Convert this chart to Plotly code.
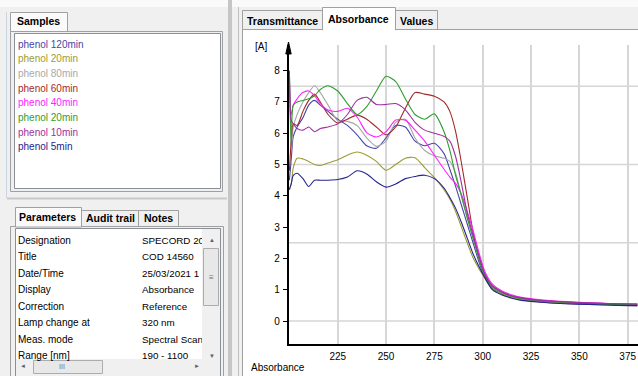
import plotly.graph_objects as go

W, H = 638, 376
UI_FONT = "Liberation Sans, Arial, sans-serif"

# ---- absorbance spectra (nm -> A) ----------------------------------------
wavelength_nm = [200, 201, 202, 204, 207, 210, 213, 216, 220, 225, 230, 235, 240,
                 245, 250, 255, 260, 265, 270, 275, 280, 283, 286, 289, 292, 295,
                 298, 301, 305, 310, 315, 320, 330, 340, 350, 360, 370, 380]

abs_120min = [4.5, 5.2, 5.9, 6.2, 6.5, 6.9, 7.05, 6.9, 6.7, 6.45, 6.25, 5.95, 5.6,
              5.52, 5.85, 6.25, 6.2, 5.75, 5.6, 5.68, 5.35, 4.85, 4.3, 3.7, 3.1, 2.5,
              1.9, 1.4, 1.04, 0.86, 0.75, 0.68, 0.61, 0.57, 0.54, 0.52, 0.5, 0.49]
abs_20min_a = [4.2, 4.4, 4.9, 5.2, 5.18, 5.1, 5.0, 4.97, 5.05, 5.15, 5.3, 5.4, 5.3,
               5.1, 4.82, 5.0, 5.2, 5.22, 4.9, 4.58, 4.2, 3.9, 3.5, 3.0, 2.5, 2.02,
               1.68, 1.37, 1.02, 0.85, 0.75, 0.68, 0.61, 0.57, 0.55, 0.53, 0.52, 0.51]
abs_80min = [7.9, 5.5, 6.2, 6.6, 7.0, 7.3, 7.52, 7.3, 6.9, 6.4, 6.38, 6.25, 5.85,
             5.58, 5.75, 6.35, 6.45, 5.85, 5.45, 5.28, 5.2, 5.1, 4.72, 4.0, 3.3, 2.65,
             2.0, 1.45, 1.08, 0.9, 0.78, 0.71, 0.64, 0.6, 0.57, 0.55, 0.53, 0.52]
abs_60min = [4.8, 5.8, 6.3, 6.25, 6.7, 7.05, 7.25, 7.0, 6.6, 6.33, 6.45, 6.58, 6.45,
             6.2, 5.95, 6.2, 6.8, 7.3, 7.25, 7.18, 7.0, 6.7, 6.05, 5.05, 3.95, 2.85,
             2.05, 1.5, 1.12, 0.92, 0.8, 0.73, 0.65, 0.61, 0.58, 0.56, 0.54, 0.53]
abs_40min = [7.7, 6.6, 6.9, 7.1, 7.3, 7.35, 7.2, 6.95, 6.74, 6.7, 6.8, 6.52, 6.02,
             5.88, 6.05, 6.42, 6.42, 6.1, 5.75, 5.3, 4.85, 4.6, 4.4, 4.05, 3.5, 2.9,
             2.2, 1.6, 1.18, 0.96, 0.84, 0.76, 0.68, 0.63, 0.6, 0.57, 0.55, 0.54]
abs_20min_b = [8.0, 5.6, 6.9, 7.0, 7.05, 7.1, 7.2, 7.4, 7.52, 7.35, 6.95, 6.6, 6.85,
               7.35, 7.82, 7.65, 7.1, 6.6, 6.45, 6.62, 6.05, 5.45, 4.65, 4.0, 3.3, 2.65,
               2.0, 1.45, 1.08, 0.9, 0.78, 0.71, 0.64, 0.6, 0.57, 0.55, 0.53, 0.52]
abs_10min = [8.0, 6.4, 6.3, 6.15, 6.1, 6.2, 6.05, 6.15, 6.2, 6.3, 6.6, 7.05, 7.15,
             6.92, 6.92, 6.95, 6.75, 6.35, 6.1, 6.0, 5.9, 5.75, 5.25, 4.4, 3.45, 2.75,
             2.1, 1.52, 1.13, 0.93, 0.81, 0.74, 0.66, 0.62, 0.59, 0.57, 0.55, 0.54]
abs_5min = [4.2, 4.4, 4.65, 4.72, 4.55, 4.3, 4.5, 4.5, 4.5, 4.52, 4.6, 4.8, 4.7,
            4.45, 4.28, 4.38, 4.55, 4.62, 4.66, 4.55, 4.25, 3.95, 3.6, 3.15, 2.65, 2.15,
            1.75, 1.4, 1.0, 0.83, 0.73, 0.66, 0.6, 0.56, 0.54, 0.52, 0.5, 0.49]

sample_labels = ["phenol 120min", "phenol 20min", "phenol 80min", "phenol 60min",
                 "phenol 40min", "phenol 20min", "phenol 10min", "phenol 5min"]
sample_colors = ["#4646aa", "#9c9c34", "#a8a8a8", "#a22a2a",
                 "#ff22ff", "#2e9e2e", "#a02ea0", "#24248e"]
sample_series = [abs_120min, abs_20min_a, abs_80min, abs_60min,
                 abs_40min, abs_20min_b, abs_10min, abs_5min]

x_ticks = [225, 250, 275, 300, 325, 350, 375]
y_ticks = [0, 1, 2, 3, 4, 5, 6, 7, 8]
y_grid = [0, 2.5, 5, 7.5]

# values as they appear in the (narrow) value column
parameter_names = ["Designation", "Title", "Date/Time", "Display", "Correction",
                   "Lamp change at", "Meas. mode", "Range [nm]"]
parameter_values = ["SPECORD 20", "COD 14560", "25/03/2021 1", "Absorbance",
                    "Reference", "320 nm", "Spectral Scan", "190 - 1100"]

# ---- pixel helpers for the window chrome ---------------------------------
shapes, notes = [], []


def fx(px):
    return px / W


def fy(py):
    return 1 - py / H


def box(x0, y0, x1, y1, fill="rgba(0,0,0,0)", edge=None, lw=1, layer="below"):
    shapes.append(dict(type="rect", xref="paper", yref="paper",
                       x0=fx(x0), x1=fx(x1), y0=fy(y1), y1=fy(y0),
                       fillcolor=fill, layer=layer,
                       line=dict(color=edge or "rgba(0,0,0,0)", width=lw if edge else 0)))


def rule(x0, y0, x1, y1, color, lw=1):
    shapes.append(dict(type="line", xref="paper", yref="paper",
                       x0=fx(x0), y0=fy(y0), x1=fx(x1), y1=fy(y1),
                       line=dict(color=color, width=lw), layer="below"))


def label(px, py, s, size=10, color="#000000", bold=False, anchor="left", width=None):
    d = dict(xref="paper", yref="paper", x=fx(px), y=fy(py),
             text=f"<b>{s}</b>" if bold else s, showarrow=False,
             xanchor=anchor, yanchor="middle", borderpad=0, borderwidth=0,
             font=dict(family=UI_FONT, size=size, color=color))
    if width:
        d.update(width=width, align="left")
    notes.append(d)


# top strip
box(0, 0, W, 7, fill="#fafafa")

# ---- left pane: sample list ----------------------------------------------
rule(6.5, 12, 6.5, 198, "#c9d5e3")
box(10.5, 12.5, 67.5, 31.5, fill="#fafafa", edge="#a0a0a0")
box(10.5, 31.5, 222.5, 191.5, edge="#a0a0a0")
box(14.5, 33.5, 220.5, 188.5, fill="#ffffff", edge="#8a8f98")
label(38.5, 21, "Samples", size=10.5, bold=True, anchor="center")
for i, (name, col) in enumerate(zip(sample_labels, sample_colors)):
    label(17.5, 44 + i * 14.7, name, color=col)
rule(7, 198.5, 227, 198.5, "#c8c8c8", lw=2)

# splitter
box(228, 0, 232, H, fill="#c6c6c6")
rule(238.5, 7, 238.5, H, "#c0c0c0")

# ---- left pane: parameter table -------------------------------------------
box(81.5, 210.5, 138.5, 226.5, fill="#f0f0f0", edge="#a0a0a0")
box(138.5, 210.5, 178.5, 226.5, fill="#f0f0f0", edge="#a0a0a0")
box(10.5, 226.5, 223.5, H + 2, edge="#a0a0a0")
box(15.5, 207.5, 81.5, 227, fill="#fafafa", edge="#a0a0a0")
box(15.5, 228.5, 220.5, H + 2, fill="#ffffff", edge="#8a8f98")
label(47, 216.5, "Parameters", size=10.5, bold=True, anchor="center")
label(110, 218, "Audit trail", size=10.5, bold=True, anchor="center")
label(158.5, 218, "Notes", size=10.5, bold=True, anchor="center")
for i, (pname, pval) in enumerate(zip(parameter_names, parameter_values)):
    yy = 240 + i * 16.55
    label(18, yy, pname)
    label(142, yy, pval, size=9.8, width=60)

# vertical scrollbar
box(202, 229, 220, 359, fill="#f0f0f0")
box(203.5, 248.5, 218.5, 305.5, fill="#e8e8e8", edge="#acacac")
label(212, 240, "▲", size=6, color="#606060", anchor="center")
label(212, 355.5, "▼", size=6, color="#606060", anchor="center")
label(211, 277, "≡", size=8, color="#707070", anchor="center")
# horizontal scrollbar
box(16, 359, 220, H, fill="#f0f0f0")
box(33.5, 360.5, 102.5, 373.5, fill="#e8e8e8", edge="#acacac")
label(23, 366, "◄", size=6, color="#606060", anchor="center")
label(197, 366, "►", size=6, color="#606060", anchor="center")
label(62, 366, "III", size=7, color="#707070", anchor="center")

# ---- right pane: tabs and chart panel ------------------------------------
box(242.5, 10.5, 322.5, 29.5, fill="#f0f0f0", edge="#a0a0a0")
box(395.5, 10.5, 437.5, 29.5, fill="#f0f0f0", edge="#a0a0a0")
box(242.5, 29.5, W + 2, H + 2, fill="#ffffff", edge="#a0a0a0")
box(322.5, 7.5, 395.5, 30, fill="#ffffff", edge="#a0a0a0")
box(323, 28, 395, 31, fill="#ffffff")
label(282, 21, "Transmittance", size=10.5, bold=True, anchor="center")
label(358, 19, "Absorbance", size=10.5, bold=True, anchor="center")
label(416, 21, "Values", size=10.5, bold=True, anchor="center")

label(255, 46, "[A]")
label(250.5, 367.5, "Absorbance")

# horizontal grid of the plot (every 2.5 A)
for g in y_grid:
    shapes.append(dict(type="line", xref="x domain", yref="y", x0=0, x1=1, y0=g, y1=g,
                       line=dict(color="#d6d6d6", width=1.5), layer="below"))

# arrow head on the ordinate
shapes.append(dict(type="path", xref="paper", yref="paper", layer="above",
                   path=f"M {fx(288.5)},{fy(42)} L {fx(285.8)},{fy(54)} "
                        f"L {fx(291.2)},{fy(54)} Z",
                   fillcolor="#000000", line=dict(color="#000000", width=1)))

# ---- figure -------------------------------------------------------------
fig = go.Figure()
for name, col, vals in zip(sample_labels, sample_colors, sample_series):
    fig.add_trace(go.Scatter(x=wavelength_nm, y=vals, mode="lines", name=name,
                             line=dict(color=col, width=1.1, shape="spline", smoothing=0.7),
                             showlegend=False, hoverinfo="skip"))

px_per_nm = 1.933
x_left = 288.5
x0_px = 289.4  # 200 nm
y_unit = 31.29
y0_px = 321.0  # 0 A

fig.update_layout(
    width=W, height=H, margin=dict(l=0, r=0, t=0, b=0),
    paper_bgcolor="#f0f0f0", plot_bgcolor="rgba(0,0,0,0)",
    shapes=shapes, annotations=notes, showlegend=False,
    xaxis=dict(domain=[x_left / W, 1],
               range=[200 - (x0_px - x_left) / px_per_nm, 200 + (W - x0_px) / px_per_nm],
               tickvals=x_ticks, ticks="", showgrid=True, gridcolor="#d6d6d6", gridwidth=1.5,
               zeroline=False, showline=True, linecolor="#000000", linewidth=1.5,
               tickfont=dict(family=UI_FONT, size=10, color="#000000"),
               ticklabelstandoff=2),
    yaxis=dict(domain=[(H - 344.3) / H, (H - 45) / H],
               range=[(y0_px - 344.3) / y_unit, (y0_px - 45) / y_unit],
               tickvals=y_ticks, ticks="outside", ticklen=4, tickcolor="#000000",
               showgrid=False, zeroline=False, showline=True, linecolor="#000000",
               linewidth=1.5, tickfont=dict(family=UI_FONT, size=10, color="#000000"),
               ticklabelstandoff=1),
)

fig.write_html("out.html")
